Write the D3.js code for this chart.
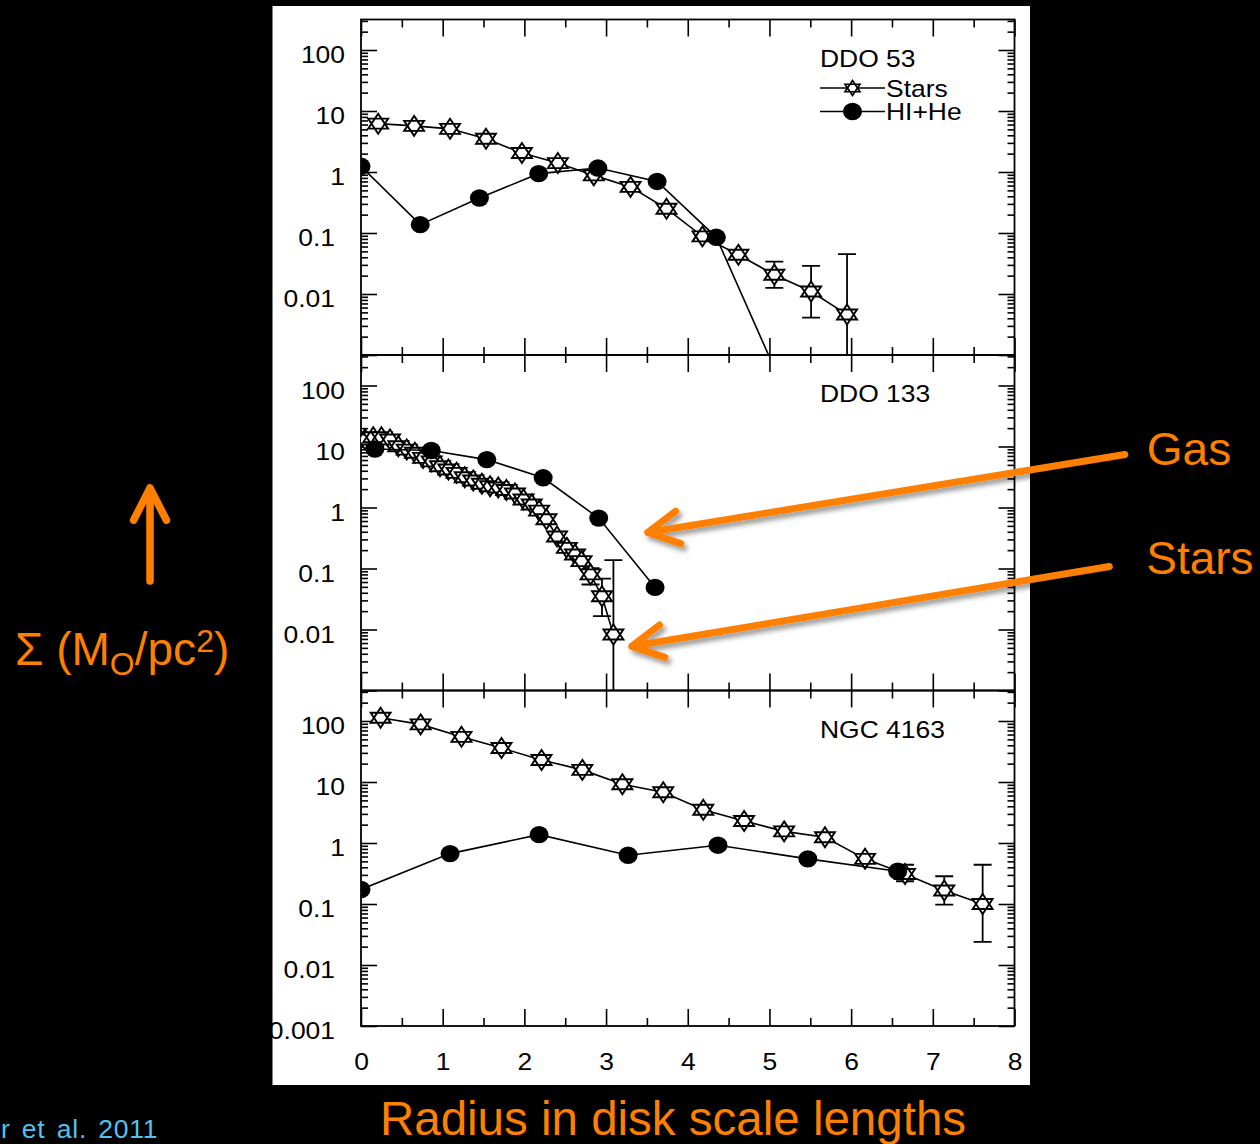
<!DOCTYPE html>
<html>
<head>
<meta charset="utf-8">
<script src="https://cdn.jsdelivr.net/npm/d3@7"></script>
<style>
  html, body { margin: 0; padding: 0; background: #000; }
  svg { display: block; }
</style>
</head>
<body>
<svg id="fig" width="1260" height="1144"></svg>
<script>
// Surface density profiles of three dwarf galaxies (stars and HI+He gas)
// against radius in disk scale lengths.

const radiusTicks = [0, 1, 2, 3, 4, 5, 6, 7, 8];
const sigmaTicks = [100, 10, 1, 0.1, 0.01, 0.001];
const sigmaTickLabels = ["100", "10", "1", "0.1", "0.01", "0.001"];
const galaxies = ["DDO 53", "DDO 133", "NGC 4163"];
const legendLabels = ["Stars", "HI+He"];

// DDO 53
const ddo53StarR  = [0.21, 0.65, 1.09, 1.53, 1.97, 2.41, 2.85, 3.30, 3.74, 4.18, 4.62, 5.06, 5.51, 5.95];
const ddo53Star   = [6.2, 5.7, 5.1, 3.5, 2.05, 1.4, 0.88, 0.57, 0.25, 0.088, 0.044, 0.0207, 0.011, 0.0046];
const ddo53StarLo = [null, null, null, null, null, null, null, null, null, null, null, 0.0126, 0.0041, 0.00001];
const ddo53StarHi = [null, null, null, null, null, null, null, null, null, null, null, 0.034, 0.029, 0.045];
const ddo53GasR   = [0, 0.725, 1.45, 2.175, 2.90, 3.625, 4.35, 5.075];
const ddo53Gas    = [1.24, 0.137, 0.375, 0.94, 1.16, 0.70, 0.085, 0.00055];

// DDO 133
const ddo133StarR = [0.05, 0.15, 0.25, 0.355, 0.457, 0.56, 0.66, 0.76, 0.865, 0.967,
                     1.07, 1.17, 1.27, 1.375, 1.48, 1.58, 1.68, 1.78, 1.885, 1.99,
                     2.09, 2.18, 2.27, 2.40, 2.52, 2.62, 2.70, 2.81, 2.95, 3.09];
const ddo133Star  = [13.0, 14.2, 14.2, 13.0, 10.1, 8.9, 7.9, 6.5, 5.7, 4.75,
                     4.2, 3.7, 3.14, 2.77, 2.45, 2.23, 2.13, 1.94, 1.70, 1.35,
                     1.12, 0.89, 0.64, 0.335, 0.218, 0.170, 0.132, 0.080, 0.035, 0.0083];
const ddo133StarLo = ddo133StarR.map((r, k) => [null, 0.0547, 0.0166, 0.00001][Math.max(0, k - 26)]);
const ddo133StarHi = ddo133StarR.map((r, k) => [null, 0.101, 0.068, 0.137][Math.max(0, k - 26)]);
const ddo133GasR  = [0.17, 0.86, 1.54, 2.23, 2.91, 3.60];
const ddo133Gas   = [9.1, 8.6, 6.1, 3.07, 0.67, 0.049];

// NGC 4163
const ngc4163StarR  = [0.24, 0.73, 1.23, 1.72, 2.21, 2.71, 3.20, 3.70, 4.19, 4.69, 5.18, 5.68, 6.17, 6.66, 7.14, 7.61];
const ngc4163Star   = [113, 88, 55, 36, 23, 15.8, 9.2, 6.8, 3.5, 2.3, 1.55, 1.24, 0.55, 0.31, 0.166, 0.10];
const ngc4163StarLo = [null, null, null, null, null, null, null, null, null, null, null, null, null, 0.236, 0.098, 0.024];
const ngc4163StarHi = [null, null, null, null, null, null, null, null, null, null, null, null, null, 0.44, 0.285, 0.44];
const ngc4163GasR   = [0, 1.09, 2.18, 3.27, 4.37, 5.47, 6.57];
const ngc4163Gas    = [0.173, 0.67, 1.37, 0.63, 0.92, 0.55, 0.344];

const panels = [
  { name: galaxies[0], starR: ddo53StarR, star: ddo53Star, lo: ddo53StarLo, hi: ddo53StarHi, gasR: ddo53GasR, gas: ddo53Gas, legend: true },
  { name: galaxies[1], starR: ddo133StarR, star: ddo133Star, lo: ddo133StarLo, hi: ddo133StarHi, gasR: ddo133GasR, gas: ddo133Gas },
  { name: galaxies[2], starR: ngc4163StarR, star: ngc4163Star, lo: ngc4163StarLo, hi: ngc4163StarHi, gasR: ngc4163GasR, gas: ngc4163Gas, xLabels: true }
];

const W = 1260, H = 1144;
const FONT = "'Liberation Sans', Arial, Helvetica, sans-serif";
const ORANGE = "#ff7f00";
const TICK_FS = 23, TICK_SX = 1.15;
const svg = d3.select("#fig");

const defs = svg.append("defs");
defs.append("filter").attr("id", "shadow")
  .attr("x", "-20%").attr("y", "-50%").attr("width", "140%").attr("height", "200%")
  .append("feDropShadow").attr("dx", 3).attr("dy", 4).attr("stdDeviation", 2.5)
  .attr("flood-color", "#000").attr("flood-opacity", 0.4);

svg.append("rect").attr("width", W).attr("height", H).attr("fill", "#000");
svg.append("rect").attr("x", 272.5).attr("y", 6).attr("width", 757.5).attr("height", 1079).attr("fill", "#fff");

const x = d3.scaleLinear().domain([0, 8]).range([361, 1014.5]);
const panelTop = [19.5, 355, 690.5];
const panelH = 335.5;
const sigmaDomain = [1e-3, Math.pow(10, 2.5)];

const yMinor = [];
for (let e = -3; e <= 2; e++) {
  for (let m = 2; m <= 9; m++) {
    const v = m * Math.pow(10, e);
    if (v < sigmaDomain[1]) yMinor.push(v);
  }
}
const xMinor = d3.range(0.5, 8, 1);

// open six-pointed star: two overlapping triangles
function hexagram(R, sx) {
  const tri = rot => d3.range(3).map(k => {
    const a = rot + k * 2 * Math.PI / 3;
    return [sx * R * Math.sin(a), -R * Math.cos(a)];
  });
  return "M" + tri(0).join("L") + "Z M" + tri(Math.PI).join("L") + "Z";
}
const starPath = hexagram(10, 1.15);
const legendStarPath = hexagram(7.5, 1.15);

function cleanAxis(sel) {
  sel.select(".domain").remove();
  sel.selectAll(".tick line").attr("stroke", "#000").attr("stroke-width", 1.6);
  sel.attr("font-family", FONT).attr("font-size", TICK_FS);
}

const scales = [];

panels.forEach((p, i) => {
  const top = panelTop[i], bottom = top + panelH;
  const y = d3.scaleLog().domain(sigmaDomain).range([bottom, top]);
  scales.push(y);
  const g = svg.append("g").attr("class", "panel");

  defs.append("clipPath").attr("id", "clip" + i)
    .append("rect").attr("x", x(0)).attr("y", top).attr("width", x(8) - x(0)).attr("height", panelH);

  // y axes (left with labels, right mirrored)
  g.append("g").attr("transform", `translate(${x(0)},0)`)
    .call(d3.axisLeft(y).tickValues(yMinor).tickSize(-7).tickFormat("")).call(cleanAxis);
  g.append("g").attr("transform", `translate(${x(8)},0)`)
    .call(d3.axisRight(y).tickValues(yMinor).tickSize(-7).tickFormat("")).call(cleanAxis);
  const left = g.append("g").attr("transform", `translate(${x(0)},0)`)
    .call(d3.axisLeft(y).tickValues(sigmaTicks).tickSize(-16)
      .tickFormat(d => (d < 0.005 && !p.xLabels) ? "" : sigmaTickLabels[sigmaTicks.indexOf(d)]))
    .call(cleanAxis);
  left.selectAll(".tick text")
    .attr("x", 0).attr("dy", null).attr("text-anchor", "end").attr("fill", "#000")
    .attr("transform", d => `translate(${d < 1 ? -26 : -16},12.8) scale(${TICK_SX},1)`);
  g.append("g").attr("transform", `translate(${x(8)},0)`)
    .call(d3.axisRight(y).tickValues(sigmaTicks).tickSize(-16).tickFormat("")).call(cleanAxis);

  // x axes on top and bottom of every panel
  g.append("g").attr("transform", `translate(0,${top})`)
    .call(d3.axisTop(x).tickValues(xMinor).tickSize(-8).tickFormat("")).call(cleanAxis);
  g.append("g").attr("transform", `translate(0,${top})`)
    .call(d3.axisTop(x).tickValues(radiusTicks).tickSize(-17).tickFormat("")).call(cleanAxis);
  g.append("g").attr("transform", `translate(0,${bottom})`)
    .call(d3.axisBottom(x).tickValues(xMinor).tickSize(-8).tickFormat("")).call(cleanAxis);
  const bx = g.append("g").attr("transform", `translate(0,${bottom})`)
    .call(d3.axisBottom(x).tickValues(radiusTicks).tickSize(-17)
      .tickFormat(p.xLabels ? d3.format("d") : ""))
    .call(cleanAxis);
  bx.selectAll(".tick text")
    .attr("y", 0).attr("dy", null).attr("text-anchor", "middle").attr("fill", "#000")
    .attr("transform", `translate(0,43.5) scale(${TICK_SX},1)`);

  // frame
  g.append("rect").attr("x", x(0)).attr("y", top).attr("width", x(8) - x(0)).attr("height", panelH)
    .attr("fill", "none").attr("stroke", "#000").attr("stroke-width", 1.8);

  const plot = g.append("g").attr("clip-path", `url(#clip${i})`);
  const line = d3.line().x(d => x(d[0])).y(d => y(d[1]));

  const stars = p.starR.map((r, k) => [r, p.star[k], p.lo[k], p.hi[k]]);
  const gas = p.gasR.map((r, k) => [r, p.gas[k]]);

  // stellar profile
  plot.append("path").datum(stars).attr("d", line)
    .attr("fill", "none").attr("stroke", "#000").attr("stroke-width", 1.6);

  const bars = plot.append("g").attr("stroke", "#000").attr("stroke-width", 1.8)
    .selectAll("g").data(stars.filter(d => d[2] !== null)).join("g");
  bars.append("line")
    .attr("x1", d => x(d[0])).attr("x2", d => x(d[0]))
    .attr("y1", d => y(d[2])).attr("y2", d => y(d[3]));
  bars.append("line")
    .attr("x1", d => x(d[0]) - 9).attr("x2", d => x(d[0]) + 9)
    .attr("y1", d => y(d[3])).attr("y2", d => y(d[3]));
  bars.filter(d => d[2] > sigmaDomain[0]).append("line")
    .attr("x1", d => x(d[0]) - 9).attr("x2", d => x(d[0]) + 9)
    .attr("y1", d => y(d[2])).attr("y2", d => y(d[2]));

  plot.append("g").selectAll("path").data(stars).join("path")
    .attr("d", starPath)
    .attr("transform", d => `translate(${x(d[0])},${y(d[1])})`)
    .attr("fill", "#fff").attr("stroke", "#000").attr("stroke-width", 1.9)
    .attr("stroke-linejoin", "miter");

  // gas profile
  plot.append("path").datum(gas).attr("d", line)
    .attr("fill", "none").attr("stroke", "#000").attr("stroke-width", 1.6);
  plot.append("g").selectAll("ellipse").data(gas).join("ellipse")
    .attr("cx", d => x(d[0])).attr("cy", d => y(d[1]))
    .attr("rx", 9.5).attr("ry", 8.7).attr("fill", "#000");

  // galaxy name
  g.append("text").attr("transform", `translate(820,${top + 47}) scale(${TICK_SX},1)`)
    .attr("font-family", FONT).attr("font-size", TICK_FS).attr("fill", "#000").text(p.name);

  if (p.legend) {
    const rows = [top + 68.5, top + 92];
    const lg = g.append("g");
    rows.forEach((ry, k) => {
      lg.append("line").attr("x1", 820).attr("x2", 885).attr("y1", ry).attr("y2", ry)
        .attr("stroke", "#000").attr("stroke-width", 1.6);
      lg.append("text").attr("transform", `translate(886,${ry + 8.8}) scale(${TICK_SX},1)`)
        .attr("font-family", FONT).attr("font-size", TICK_FS).attr("fill", "#000").text(legendLabels[k]);
    });
    lg.append("path").attr("d", legendStarPath).attr("transform", `translate(852.5,${rows[0]})`)
      .attr("fill", "#fff").attr("stroke", "#000").attr("stroke-width", 1.7);
    lg.append("ellipse").attr("cx", 852.5).attr("cy", rows[1]).attr("rx", 9.5).attr("ry", 8.7).attr("fill", "#000");
  }
});

// orange annotations
const ann = svg.append("g").attr("stroke", ORANGE).attr("fill", "none")
  .attr("stroke-linecap", "round").attr("stroke-linejoin", "round");

function arrow(tail, tip, len, ang, width) {
  const dx = tail[0] - tip[0], dy = tail[1] - tip[1], L = Math.hypot(dx, dy);
  const ux = dx / L, uy = dy / L;
  const arm = a => [tip[0] + len * (ux * Math.cos(a) - uy * Math.sin(a)),
                    tip[1] + len * (ux * Math.sin(a) + uy * Math.cos(a))];
  ann.append("path")
    .attr("d", `M${tail}L${tip}M${arm(ang)}L${tip}L${arm(-ang)}`)
    .attr("stroke-width", width).attr("filter", "url(#shadow)");
}

const yMid = scales[1];
const gasTail = [x(9.35), yMid(7.4)], gasTip = [x(3.51), yMid(0.39)];
const starTail = [x(9.16), yMid(0.108)], starTip = [x(3.315), yMid(0.0053)];
arrow(gasTail, gasTip, 35, 28 * Math.PI / 180, 7);
arrow(starTail, starTip, 35, 28 * Math.PI / 180, 7);
arrow([150, 581], [150, 488], 36, 27 * Math.PI / 180, 7.5);

const label = svg.append("g").attr("font-family", FONT).attr("fill", ORANGE);
label.append("text").attr("x", gasTail[0] + 22).attr("y", gasTail[1] + 11).attr("font-size", 46).text("Gas");
label.append("text").attr("x", starTail[0] + 37).attr("y", starTail[1] + 8).attr("font-size", 46).text("Stars");

const sig = label.append("text").attr("x", 15).attr("y", 665).attr("font-size", 46);
sig.append("tspan").text("Σ (M");
sig.append("tspan").attr("font-size", 32).attr("dy", 10).text("O");
sig.append("tspan").attr("dy", -10).text("/pc");
sig.append("tspan").attr("font-size", 32).attr("dy", -13).text("2");
sig.append("tspan").attr("dy", 13).text(")");

label.append("text").attr("x", 673).attr("y", 1135).attr("font-size", 47.5)
  .attr("text-anchor", "middle").text("Radius in disk scale lengths");

svg.append("text").attr("x", 1).attr("y", 1137.5).attr("font-size", 26.5)
  .attr("font-family", FONT).attr("fill", "#52c2ee")
  .attr("word-spacing", 3).attr("letter-spacing", 0.8)
  .text("r et al. 2011");
</script>
</body>
</html>
